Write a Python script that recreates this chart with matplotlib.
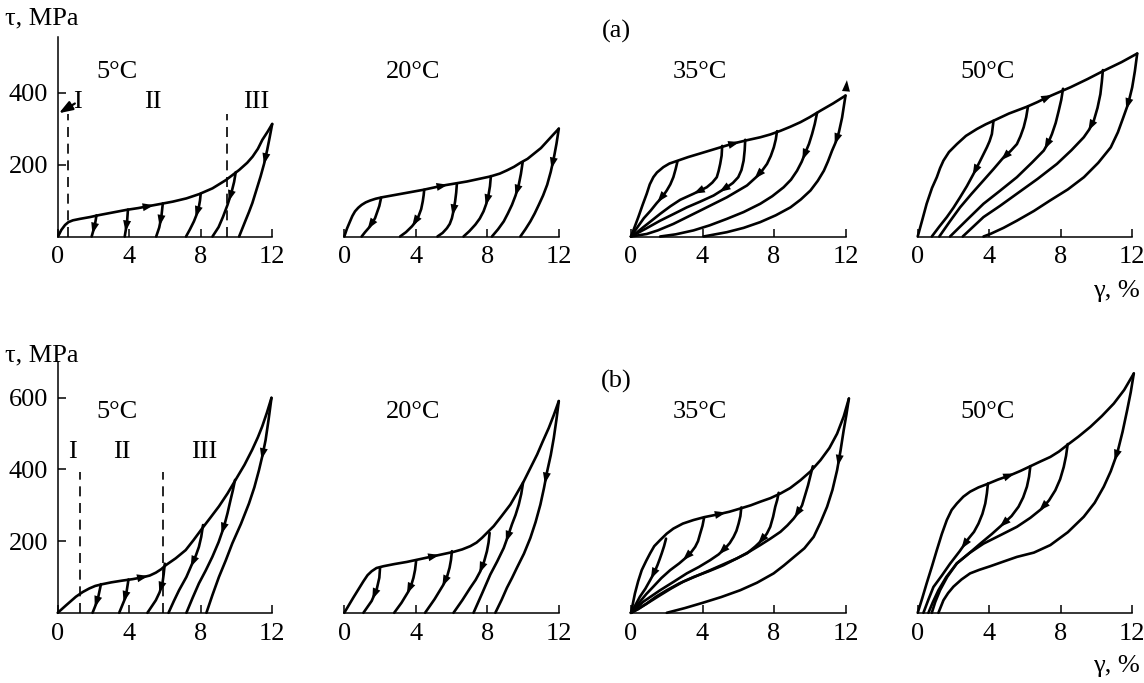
import matplotlib.pyplot as plt
import numpy as np

plt.rcParams['font.family'] = ['Liberation Serif', 'DejaVu Serif']
plt.rcParams['font.size'] = 19

# ---- data: (gamma %, tau MPa) ----
temps = ['5°C', '20°C', '35°C', '50°C']
x_ticks = [0, 4, 8, 12]
y_ticks_a = [200, 400]
y_ticks_b = [200, 400, 600]

# (a) row
a5_load = [(0.04, 2), (0.2, 18), (0.41, 32), (0.6, 40), (0.85, 45), (1.24, 49), (1.8, 54),
           (2.36, 60), (3.1, 67), (3.84, 74), (4.5, 79), (5.14, 85), (5.8, 91), (6.44, 97),
           (7.2, 106), (7.92, 118), (8.66, 134), (9.41, 157), (10.15, 185), (10.6, 205),
           (10.9, 222), (11.2, 244), (11.45, 269), (11.75, 292), (12.0, 313)]
a5_unload = [
    [(2.17, 59), (2.08, 32), (1.9, 0)],
    [(3.93, 75), (3.88, 40), (3.75, 0)],
    [(5.88, 92), (5.8, 55), (5.68, 25), (5.51, 0)],
    [(8.0, 119), (7.96, 100), (7.9, 83), (7.78, 62), (7.62, 42), (7.4, 20), (7.18, 0)],
    [(9.96, 179), (9.87, 152), (9.72, 122), (9.5, 88), (9.25, 55), (9.0, 26), (8.66, 0)],
    [(12.0, 313), (11.86, 276), (11.72, 241), (11.55, 203), (11.35, 167), (11.12, 130),
     (10.89, 93), (10.7, 68), (10.52, 46), (10.15, 0)],
]
a20_load = [(0, 0), (0.15, 22), (0.32, 42), (0.45, 57), (0.6, 70), (0.78, 80), (0.97, 88),
            (1.2, 95), (1.44, 100), (1.75, 105), (2.1, 109), (3.1, 118), (4.43, 130), (5.55, 142),
            (6.86, 153), (8.17, 167), (8.7, 175), (9.1, 184), (9.5, 194), (9.85, 205),
            (10.25, 216), (10.6, 230), (11.0, 246), (11.35, 265), (11.7, 284), (12.0, 300)]
a20_unload = [
    [(2.06, 108), (1.96, 85), (1.72, 51), (1.44, 28), (1.16, 12), (0.97, 0)],
    [(4.47, 130), (4.44, 115), (4.39, 98), (4.3, 76), (4.15, 56), (3.98, 40), (3.78, 28),
     (3.45, 12), (3.12, 0)],
    [(6.3, 148), (6.26, 122), (6.2, 98), (6.12, 74), (6.02, 51), (5.9, 35), (5.74, 23),
     (5.5, 10), (5.21, 0)],
    [(8.2, 168), (8.15, 140), (8.07, 116), (7.95, 92), (7.79, 70), (7.58, 50), (7.33, 33),
     (7.0, 15), (6.67, 0)],
    [(9.98, 207), (9.88, 174), (9.76, 144), (9.58, 114), (9.38, 88), (9.15, 64), (8.92, 42),
     (8.6, 20), (8.26, 0)],
    [(12.0, 300), (11.87, 258), (11.72, 218), (11.55, 180), (11.35, 144), (11.12, 114),
     (10.88, 88), (10.65, 64), (10.41, 42), (10.13, 20), (9.85, 0)],
]
a35_load = [(0, 0), (0.2, 26), (0.41, 54), (0.65, 88), (0.88, 119), (1.05, 145), (1.25, 165),
            (1.45, 178), (1.81, 193), (2.15, 203), (2.56, 210), (3.2, 221), (3.87, 231),
            (4.8, 245), (5.74, 259), (6.5, 268), (7.23, 276), (7.8, 284), (8.36, 294),
            (8.9, 305), (9.48, 318), (10.0, 332), (10.6, 350), (11.3, 370), (12.0, 392)]
a35_unload = [
    [(2.6, 209), (2.5, 188), (2.37, 165), (2.2, 145), (2.0, 128), (1.75, 110), (1.44, 93),
     (1.1, 72), (0.72, 51), (0.35, 25), (0, 0)],
    [(5.1, 252), (5.07, 225), (4.99, 202), (4.9, 182), (4.8, 165), (4.55, 150), (4.24, 137),
     (3.5, 119), (2.75, 102), (2.2, 84), (1.63, 63), (1.1, 42), (0.69, 26), (0.3, 10), (0, 0)],
    [(6.39, 269), (6.36, 240), (6.3, 211), (6.18, 185), (6.0, 165), (5.7, 149), (5.36, 137),
     (4.62, 114), (3.87, 97), (3.12, 81), (2.4, 63), (1.63, 44), (0.8, 21), (0, 0)],
    [(8.17, 293), (8.1, 270), (7.99, 248), (7.82, 224), (7.61, 202), (7.2, 174), (6.49, 142),
     (5.36, 109), (3.87, 72), (2.37, 35), (1.5, 17), (0.88, 7), (0, 0)],
    [(10.41, 344), (10.28, 313), (10.13, 285), (9.96, 258), (9.76, 234), (9.55, 208),
     (9.29, 183), (8.95, 158), (8.54, 137), (7.9, 112), (7.23, 91), (6.3, 68), (5.36, 49),
     (4.4, 31), (3.5, 17), (2.5, 6), (1.63, 0)],
    [(12.0, 392), (11.9, 360), (11.81, 331), (11.63, 290), (11.45, 262), (11.25, 239),
     (11.02, 209), (10.79, 183), (10.45, 155), (10.04, 128), (9.5, 103), (8.92, 81), (8.1, 59),
     (7.23, 40), (6.3, 24), (5.36, 12), (4.06, 0)],
]
a50_load = [(0, 0), (0.25, 45), (0.5, 91), (0.8, 135), (1.07, 165), (1.25, 190), (1.44, 211),
            (1.75, 235), (2.19, 257), (2.7, 280), (3.31, 299), (3.8, 312), (4.24, 322),
            (5.1, 342), (6.11, 361), (6.7, 374), (7.23, 387), (8.54, 415), (9.5, 438),
            (10.4, 461), (11.4, 485), (12.28, 509)]
a50_unload = [
    [(4.24, 322), (4.15, 285), (4.02, 265), (3.87, 248), (3.5, 211), (3.12, 174), (2.75, 140),
     (2.37, 109), (2.0, 80), (1.63, 54), (1.2, 27), (0.79, 0)],
    [(6.17, 362), (6.07, 332), (5.93, 304), (5.75, 279), (5.55, 257), (5.2, 238), (4.8, 220),
     (4.25, 188), (3.68, 156), (3.0, 118), (2.37, 81), (1.8, 42), (1.21, 0)],
    [(8.13, 411), (8.03, 380), (7.89, 350), (7.72, 316), (7.51, 285), (7.3, 260), (7.05, 239),
     (6.4, 206), (5.55, 165), (4.6, 127), (3.68, 91), (2.75, 46), (1.81, 0)],
    [(10.36, 463), (10.3, 430), (10.22, 396), (10.06, 358), (9.85, 322), (9.6, 298),
     (9.29, 276), (8.6, 240), (7.79, 202), (6.7, 160), (5.55, 119), (4.6, 85), (3.68, 54),
     (3.1, 27), (2.52, 0)],
    [(12.28, 509), (12.15, 460), (12.0, 415), (11.78, 370), (11.5, 331), (11.2, 290),
     (10.8, 248), (10.1, 205), (9.3, 165), (8.4, 131), (7.4, 100), (6.5, 71), (5.55, 44),
     (4.8, 24), (4.06, 7), (3.68, 0)],
]

# (b) row
b5_load = [(0, 0), (0.47, 21), (1.02, 45), (1.4, 58), (1.77, 68), (2.1, 75), (2.51, 80),
           (3.0, 85), (3.63, 90), (4.2, 94), (4.74, 99), (5.15, 104), (5.49, 112), (5.8, 122),
           (6.05, 133), (6.6, 152), (7.16, 175), (7.6, 203), (8.09, 236), (8.55, 266),
           (9.02, 297), (9.5, 333), (9.95, 371), (10.45, 413), (10.88, 455), (11.2, 490),
           (11.44, 520), (11.7, 558), (11.96, 600)]
b5_unload = [
    [(2.42, 80), (2.23, 35), (1.95, 0)],
    [(3.96, 93), (3.81, 45), (3.44, 0)],
    [(5.99, 137), (5.93, 108), (5.86, 82), (5.7, 57), (5.49, 35), (5.02, 0)],
    [(8.13, 245), (8.03, 212), (7.9, 184), (7.73, 160), (7.53, 138), (7.2, 100), (6.79, 63),
     (6.5, 33), (6.2, 0)],
    [(9.92, 371), (9.8, 342), (9.67, 315), (9.5, 278), (9.3, 240), (9.0, 197), (8.65, 156),
     (8.28, 118), (7.9, 82), (7.55, 42), (7.2, 0)],
    [(11.96, 600), (11.8, 540), (11.63, 482), (11.45, 438), (11.26, 398), (11.0, 350),
     (10.7, 305), (10.25, 248), (9.77, 194), (9.4, 146), (9.02, 100), (8.66, 50), (8.32, 0)],
]
b20_load = [(0, 0), (0.5, 42), (1.07, 88), (1.3, 105), (1.53, 116), (1.8, 125), (2.19, 130),
            (2.8, 136), (3.5, 142), (4.25, 150), (4.99, 158), (6.11, 170), (6.6, 177),
            (7.05, 186), (7.4, 196), (7.7, 209), (8.0, 224), (8.36, 242), (8.8, 270),
            (9.29, 302), (9.65, 333), (10.04, 367), (10.4, 403), (10.79, 442), (11.1, 478),
            (11.44, 516), (11.72, 552), (12.0, 591)]
b20_unload = [
    [(2.0, 126), (1.96, 98), (1.81, 65), (1.53, 33), (1.07, 0)],
    [(4.02, 146), (3.96, 120), (3.87, 98), (3.75, 78), (3.59, 60), (3.2, 28), (2.79, 0)],
    [(6.02, 172), (5.97, 148), (5.89, 126), (5.75, 101), (5.55, 79), (5.05, 38), (4.52, 0)],
    [(8.13, 223), (8.07, 196), (7.98, 172), (7.82, 143), (7.61, 116), (7.35, 92), (7.05, 70),
     (6.6, 35), (6.11, 0)],
    [(10.0, 363), (9.9, 332), (9.76, 302), (9.58, 273), (9.38, 247), (9.15, 213), (8.92, 181),
     (8.55, 143), (8.17, 107), (7.7, 53), (7.23, 0)],
    [(12.0, 591), (11.87, 540), (11.72, 488), (11.55, 440), (11.35, 395), (11.17, 348),
     (10.97, 302), (10.7, 253), (10.41, 209), (10.05, 165), (9.66, 126), (9.38, 97),
     (9.1, 70), (8.8, 36), (8.45, 0)],
]
b35_load = [(0, 0), (0.22, 54), (0.4, 88), (0.6, 119), (0.85, 145), (1.07, 166), (1.3, 186),
            (1.63, 203), (2.0, 221), (2.37, 235), (2.9, 249), (3.5, 259), (4.1, 267),
            (4.8, 274), (5.5, 282), (6.11, 291), (6.7, 300), (7.23, 310), (7.8, 320),
            (8.36, 333), (8.9, 348), (9.48, 370), (10.05, 395), (10.6, 426), (11.1, 460),
            (11.53, 500), (11.9, 548), (12.19, 598)]
b35_unload = [
    [(1.96, 207), (1.85, 186), (1.72, 166), (1.6, 149), (1.48, 133), (1.3, 112), (1.07, 91),
     (0.8, 67), (0.5, 45), (0.25, 22), (0, 0)],
    [(4.09, 266), (4.0, 243), (3.87, 221), (3.75, 200), (3.59, 184), (3.38, 170), (3.12, 156),
     (2.7, 138), (2.19, 119), (1.7, 97), (1.25, 73), (0.85, 52), (0.5, 31), (0.22, 13), (0, 0)],
    [(6.17, 294), (6.12, 270), (6.02, 249), (5.9, 229), (5.74, 212), (5.53, 195), (5.27, 180),
     (4.9, 163), (4.43, 147), (3.8, 128), (3.12, 110), (2.4, 87), (1.63, 63), (1.1, 45),
     (0.69, 31), (0.3, 13), (0, 0)],
    [(8.26, 335), (8.18, 315), (8.07, 296), (7.95, 268), (7.79, 240), (7.6, 221), (7.33, 203),
     (6.95, 185), (6.49, 166), (5.85, 150), (5.18, 133), (4.35, 116), (3.5, 100), (2.7, 82),
     (2.0, 63), (1.4, 45), (0.88, 26), (0.4, 10), (0, 0)],
    [(10.17, 409), (9.9, 355), (9.57, 300), (9.35, 280), (9.1, 263), (8.75, 244), (8.36, 226),
     (7.8, 207), (7.23, 189), (6.6, 170), (5.93, 152), (5.2, 136), (4.43, 119), (3.68, 103),
     (2.93, 87), (2.25, 68), (1.63, 49), (0.8, 23), (0, 0)],
    [(12.19, 598), (12.05, 553), (11.9, 510), (11.72, 452), (11.53, 398), (11.27, 343),
     (10.97, 296), (10.6, 252), (10.22, 212), (9.7, 180), (9.1, 155), (8.55, 132), (7.98, 110),
     (7.05, 84), (6.11, 63), (5.05, 44), (4.02, 28), (3.0, 13), (2.0, 0)],
]
b50_load = [(0, 0), (0.25, 40), (0.5, 82), (0.8, 130), (1.07, 175), (1.35, 220), (1.63, 259),
            (1.9, 287), (2.19, 305), (2.55, 324), (2.93, 338), (3.4, 350), (3.87, 359),
            (4.5, 372), (5.18, 384), (5.75, 396), (6.3, 409), (6.85, 422), (7.42, 435),
            (7.9, 450), (8.36, 468), (9.0, 492), (9.66, 519), (10.3, 549), (10.97, 584),
            (11.55, 622), (12.09, 668)]
b50_unload = [
    [(3.93, 361), (3.87, 333), (3.78, 305), (3.62, 276), (3.4, 249), (3.15, 226), (2.84, 207),
     (2.35, 172), (1.81, 137), (1.35, 104), (0.88, 72), (0.6, 37), (0.32, 0)],
    [(6.3, 409), (6.23, 380), (6.11, 352), (5.9, 322), (5.64, 296), (5.25, 270), (4.8, 249),
     (4.15, 220), (3.5, 193), (2.85, 165), (2.19, 138), (1.6, 100), (1.16, 63), (0.85, 30),
     (0.6, 0)],
    [(8.39, 471), (8.3, 438), (8.17, 407), (7.97, 373), (7.7, 342), (7.35, 314), (6.95, 291),
     (6.3, 265), (5.55, 240), (4.6, 216), (3.68, 193), (2.9, 167), (2.19, 138), (1.65, 100),
     (1.25, 63), (0.98, 30), (0.79, 0)],
    [(12.09, 668), (11.92, 616), (11.72, 566), (11.46, 505), (11.16, 445), (10.8, 395),
     (10.41, 352), (9.9, 307), (9.29, 268), (8.4, 225), (7.42, 189), (6.5, 168), (5.55, 156),
     (4.8, 143), (4.06, 130), (3.45, 120), (2.93, 110), (2.45, 93), (2.0, 73), (1.7, 55),
     (1.44, 35), (1.16, 0)],
]

# regions I / II / III for 5 C panels
a5_bounds = [0.59, 9.47]
b5_bounds = [1.27, 5.9]
a5_regions = [('I', 1.09), ('II', 5.3), ('III', 11.1)]
b5_regions = [('I', 0.8), ('II', 3.57), ('III', 8.2)]

# ---- layout (pixels of 1144x683 canvas) ----
W, H = 1144, 683
lefts = [57.7, 344.3, 631, 917.7]
panel_w = 214.5
rows = [
    dict(base=236.5, top=37, ymax=555, yt=y_ticks_a, tag='(a)', tag_y=31,
         tau_y=18, gam_y=291, temp_y=457,
         loads=[a5_load, a20_load, a35_load, a50_load],
         unloads=[a5_unload, a20_unload, a35_unload, a50_unload],
         load_arrow=[5.05, 5.46, 5.74, 7.23],
         un_arrow=[[0.6, 0.6, 0.5, 0.4, 0.35, 0.3], [0.65, 0.6, 0.45, 0.35, 0.35, 0.3],
                   [0.45, 0.4, 0.35, 0.25, 0.2, 0.2], [0.4, 0.35, 0.3, 0.25, 0.2]],
         bounds=a5_bounds, regions=a5_regions, bound_top=342, region_y=375),
    dict(base=612.8, top=362, ymax=700, yt=y_ticks_b, tag='(b)', tag_y=381,
         tau_y=355, gam_y=666, temp_y=560,
         loads=[b5_load, b20_load, b35_load, b50_load],
         unloads=[b5_unload, b20_unload, b35_unload, b50_unload],
         load_arrow=[4.74, 4.99, 4.99, 5.1],
         un_arrow=[[0.6, 0.5, 0.45, 0.4, 0.35, 0.25], [0.55, 0.5, 0.45, 0.4, 0.4, 0.35],
                   [0.45, 0.35, 0.3, 0.25, 0.2, 0.2], [0.45, 0.35, 0.3, 0.25]],
         bounds=b5_bounds, regions=b5_regions, bound_top=394, region_y=450),
]
temp_x = [3.3, 3.85, 3.87, 3.89]

LW = 1.9
ARROW = dict(arrowstyle='-|>,head_length=0.45,head_width=0.16', color='black', lw=0,
             mutation_scale=18, shrinkA=0, shrinkB=0)


def arrow_on(ax, pts, s_target=None, gamma=None):
    xy = ax.transData.transform(np.asarray(pts, dtype=float))
    seg = np.hypot(*np.diff(xy, axis=0).T)
    s = np.concatenate([[0], np.cumsum(seg)])
    if gamma is not None:
        gx = ax.transData.transform((gamma, 0))[0]
        t = np.interp(gx, xy[:, 0], s)
    else:
        t = s_target * s[-1]
    tip = (np.interp(t + 6, s, xy[:, 0]), np.interp(t + 6, s, xy[:, 1]))
    tail = (np.interp(t - 6, s, xy[:, 0]), np.interp(t - 6, s, xy[:, 1]))
    inv = ax.transData.inverted()
    ax.annotate('', xy=inv.transform(tip), xytext=inv.transform(tail), arrowprops=ARROW)


fig = plt.figure(figsize=(W / 100, H / 100), dpi=100)

for r in rows:
    for i in range(4):
        ax = fig.add_axes([lefts[i] / W, 1 - r['base'] / H, panel_w / W, (r['base'] - r['top']) / H])
        ax.set_xlim(0, 12)
        ax.set_ylim(0, r['ymax'])
        ax.patch.set_alpha(0)
        for sp in ['top', 'right']:
            ax.spines[sp].set_visible(False)
        ax.spines['bottom'].set_linewidth(1.1)
        ax.set_xticks(x_ticks)
        ax.tick_params(axis='x', direction='in', length=6, width=1.1, pad=7)
        if i == 0:
            ax.spines['left'].set_linewidth(1.1)
            ax.set_yticks(r['yt'])
            ax.tick_params(axis='y', direction='in', length=6, width=1.1, pad=7)
        else:
            ax.spines['left'].set_visible(False)
            ax.tick_params(axis='y', left=False, labelleft=False)

        load = np.array(r['loads'][i])
        ax.plot(load[:, 0], load[:, 1], color='black', lw=LW, clip_on=False,
                solid_joinstyle='round', solid_capstyle='round')
        arrow_on(ax, load, gamma=r['load_arrow'][i])
        for c, f in zip(r['unloads'][i], r['un_arrow'][i]):
            c = np.array(c)
            ax.plot(c[:, 0], c[:, 1], color='black', lw=LW, clip_on=False,
                    solid_joinstyle='round', solid_capstyle='round')
            arrow_on(ax, c, s_target=f)

        ax.text(temp_x[i], r['temp_y'], temps[i], ha='center', va='center')

        if i == 0:
            for g in r['bounds']:
                ax.plot([g, g], [0, r['bound_top']], color='black', lw=1.2,
                        linestyle=(0, (6, 4)), clip_on=False)
            for lab, g in r['regions']:
                ax.text(g, r['region_y'], lab, ha='center', va='center')
        if i == 2 and r['tag'] == '(a)':
            # small arrowhead at the end of the 35 C loading curve
            ax.annotate('', xy=(12.08, 435), xytext=(12.02, 400), arrowprops=ARROW,
                        annotation_clip=False)
        if i == 0 and r['tag'] == '(a)':
            ax.annotate('', xy=(0.07, 343), xytext=(0.96, 370),
                        arrowprops=dict(ARROW, lw=1.6), annotation_clip=False)

    fig.text(5 / W, 1 - r['tau_y'] / H, 'τ, MPa', ha='left', va='center')
    fig.text(1140 / W, 1 - r['gam_y'] / H, 'γ, %', ha='right', va='center')
    fig.text(616 / W, 1 - r['tag_y'] / H, r['tag'], ha='center', va='center')

fig.savefig('out.png', dpi=100)
